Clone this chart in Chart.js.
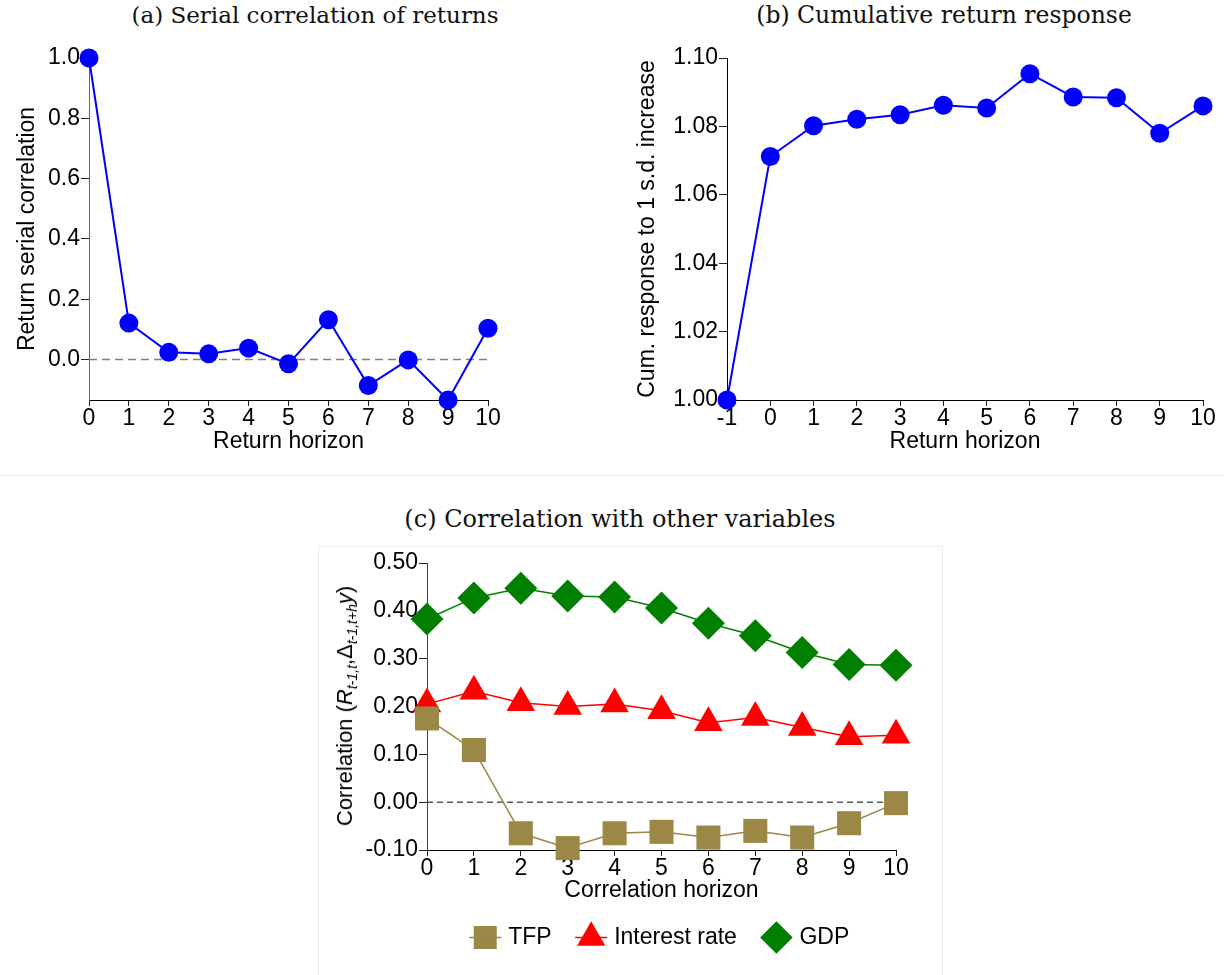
<!DOCTYPE html>
<html>
<head>
<meta charset="utf-8">
<script src="https://cdn.jsdelivr.net/npm/chart.js@4.4.1/dist/chart.umd.min.js"></script>
<style>
  body { margin:0; background:#fff; width:1224px; height:975px; position:relative; overflow:hidden; font-family:"Liberation Sans", Arial, sans-serif; }
  .ptitle { position:absolute; font-family:"DejaVu Serif", serif; color:#111; white-space:nowrap; transform:translateX(-50%); }
  canvas { position:absolute; }
  #sep { position:absolute; left:0; top:475px; width:1224px; height:1px; background:#ececec; }
  #boxc { position:absolute; left:318px; top:546px; width:623px; height:440px; border:1px solid #ececec; }
  #ytc { position:absolute; left:345px; top:706px; transform:translate(-50%,-50%) rotate(-90deg); font-size:22px; white-space:nowrap; color:#000; font-family:"Liberation Sans", Arial, sans-serif; }
  #ytc sub { font-size:14px; vertical-align:-5px; line-height:0; }
</style>
</head>
<body>
<div id="sep"></div>
<div id="boxc"></div>
<div class="ptitle" style="left:315px; top:4px; font-size:23px; line-height:23px;">(a) Serial correlation of returns</div>
<div class="ptitle" style="left:944px; top:4px; font-size:23.5px; line-height:23px;">(b) Cumulative return response</div>
<div class="ptitle" style="left:620px; top:507px; font-size:24px; line-height:24px;">(c) Correlation with other variables</div>
<canvas id="ca" width="610" height="470" style="left:0px; top:0px; width:610px; height:470px;"></canvas>
<canvas id="cb" width="612" height="470" style="left:612px; top:0px; width:612px; height:470px;"></canvas>
<canvas id="cc" width="624" height="429" style="left:318px; top:546px; width:624px; height:429px;"></canvas>
<div id="ytc">Correlation (<i>R</i><sub><i>t-1,t</i></sub>,Δ<sub><i>t-1,t+h</i></sub><i>y</i>)</div>

<script>
// ---------------- data ----------------
const horizonA = [0, 1, 2, 3, 4, 5, 6, 7, 8, 9, 10];
const serialCorr = [1.000, 0.121, 0.024, 0.019, 0.038, -0.014, 0.132, -0.086, -0.001, -0.134, 0.104];
const yTicksA = [0.0, 0.2, 0.4, 0.6, 0.8, 1.0];
const yRangeA = [-0.134, 1.0];

const horizonB = [-1, 0, 1, 2, 3, 4, 5, 6, 7, 8, 9, 10];
const cumResponse = [1.0000, 1.0712, 1.0802, 1.0821, 1.0834, 1.0862, 1.0854, 1.0954, 1.0886, 1.0884, 1.0780, 1.0860];
const yTicksB = [1.00, 1.02, 1.04, 1.06, 1.08, 1.10];
const yRangeB = [1.00, 1.10];

const horizonC = [0, 1, 2, 3, 4, 5, 6, 7, 8, 9, 10];
const seriesNamesC = ['TFP', 'Interest rate', 'GDP'];
const tfpCorr = [0.175, 0.109, -0.065, -0.096, -0.065, -0.062, -0.074, -0.060, -0.074, -0.044, -0.002];
const rateCorr = [0.205, 0.232, 0.208, 0.200, 0.205, 0.191, 0.166, 0.177, 0.156, 0.137, 0.140];
const gdpCorr = [0.383, 0.427, 0.447, 0.431, 0.429, 0.406, 0.374, 0.348, 0.313, 0.288, 0.286];
const yTicksC = [-0.10, 0.00, 0.10, 0.20, 0.30, 0.40, 0.50];
const yRangeC = [-0.10, 0.50];

// ---------------- helpers ----------------
const FONT = '"Liberation Sans", Arial, sans-serif';
const FS = 23;
const pts = (xs, ys) => xs.map((x, i) => ({ x: x, y: ys[i] }));
const zeroLine = (xs, color, dash, width) => ({
  type: 'line', label: '__zero', data: [{ x: xs[0], y: 0 }, { x: xs[xs.length - 1], y: 0 }],
  borderColor: color, borderDash: dash, borderWidth: width, pointRadius: 0, fill: false
});

function xScale(xs, title, height, titlePadBottom, z) {
  return {
    type: 'linear', min: xs[0], max: xs[xs.length - 1], z: z,
    afterBuildTicks: s => { s.ticks = xs.map(v => ({ value: v })); },
    ticks: { autoSkip: false, maxRotation: 0, padding: -1, color: '#000', font: { size: FS, family: FONT }, callback: v => String(v) },
    grid: { drawOnChartArea: false, drawTicks: true, tickLength: 6, color: '#222', tickColor: '#222', lineWidth: 1 },
    border: { display: true, color: '#000', width: 1 },
    title: { display: true, text: title, color: '#000', font: { size: FS, family: FONT }, padding: { top: 0, bottom: titlePadBottom } },
    afterFit: s => { s.height = height; }
  };
}
function yScale(range, ticks, decimals, title, width, titlePad, borderColor, z) {
  return {
    type: 'linear', min: range[0], max: range[1], z: z,
    afterBuildTicks: s => { s.ticks = ticks.map(v => ({ value: v })); },
    ticks: { autoSkip: false, padding: 1, color: '#000', font: { size: FS, family: FONT }, callback: v => Number(v).toFixed(decimals) },
    grid: { drawOnChartArea: false, drawTicks: true, tickLength: 8, color: '#222', tickColor: '#222', lineWidth: 1 },
    border: { display: true, color: borderColor, width: 1 },
    title: { display: !!title, text: title || '', color: '#000', font: { size: FS, family: FONT }, padding: { top: titlePad, bottom: 0 } },
    afterFit: s => { s.width = width; }
  };
}
const baseOpts = { responsive: false, animation: false, events: [], devicePixelRatio: 1 };

// ---------------- panel (a) ----------------
new Chart(document.getElementById('ca'), {
  type: 'line',
  data: {
    datasets: [
      { label: 'serial', data: pts(horizonA, serialCorr), borderColor: '#0000ff', backgroundColor: '#0000ff', borderWidth: 2,
        pointStyle: 'circle', pointRadius: 9.5, pointBackgroundColor: '#0000ff', pointBorderWidth: 0, clip: false, tension: 0 },
      zeroLine(horizonA, '#808080', [8, 5], 1.5)
    ]
  },
  options: Object.assign({}, baseOpts, {
    layout: { padding: { top: 58, right: 122, bottom: 15, left: 0 } },
    plugins: { legend: { display: false }, tooltip: { enabled: false } },
    scales: {
      x: xScale(horizonA, 'Return horizon', 55, 0, 1),
      y: yScale(yRangeA, yTicksA, 1, 'Return serial correlation', 89, 14, '#666', 1)
    }
  })
});

// ---------------- panel (b) ----------------
new Chart(document.getElementById('cb'), {
  type: 'line',
  data: {
    datasets: [
      { label: 'cum', data: pts(horizonB, cumResponse), borderColor: '#0000ff', backgroundColor: '#0000ff', borderWidth: 2,
        pointStyle: 'circle', pointRadius: 9.5, pointBackgroundColor: '#0000ff', pointBorderWidth: 0, clip: false, tension: 0 }
    ]
  },
  options: Object.assign({}, baseOpts, {
    layout: { padding: { top: 58, right: 21, bottom: 15, left: 0 } },
    plugins: { legend: { display: false }, tooltip: { enabled: false } },
    scales: {
      x: xScale(horizonB, 'Return horizon', 55, 0, 1),
      y: yScale(yRangeB, yTicksB, 2, 'Cum. response to 1 s.d. increase', 115, 22, '#000', 1)
    }
  })
});

// ---------------- panel (c) ----------------
const legendLines = {
  id: 'legendLines',
  afterDraw(chart) {
    const lg = chart.legend;
    if (!lg || !lg.legendHitBoxes) return;
    const ctx = chart.ctx;
    lg.legendItems.forEach((item, i) => {
      const ds = chart.data.datasets[item.datasetIndex];
      if (!ds || !ds.legendLine) return;
      const hb = lg.legendHitBoxes[i];
      const cx = hb.left + FS / 2, cy = hb.top + hb.height / 2;
      ctx.save();
      ctx.strokeStyle = ds.borderColor; ctx.lineWidth = 1.5;
      ctx.beginPath(); ctx.moveTo(cx - 16, cy); ctx.lineTo(cx + 16, cy); ctx.stroke();
      ctx.restore();
    });
  }
};
const colTFP = '#9b8746', colRate = '#ff0000', colGDP = '#007f00';
new Chart(document.getElementById('cc'), {
  type: 'line',
  data: {
    datasets: [
      { label: seriesNamesC[0], data: pts(horizonC, tfpCorr), borderColor: colTFP, backgroundColor: colTFP, borderWidth: 1.5,
        pointStyle: 'rect', pointRadius: 17, pointBackgroundColor: colTFP, pointBorderWidth: 0, clip: false, legendLine: true },
      { label: seriesNamesC[1], data: pts(horizonC, rateCorr), borderColor: colRate, backgroundColor: colRate, borderWidth: 1.5,
        pointStyle: 'triangle', pointRadius: 16.5, pointBackgroundColor: colRate, pointBorderWidth: 0, clip: false, legendLine: true },
      { label: seriesNamesC[2], data: pts(horizonC, gdpCorr), borderColor: colGDP, backgroundColor: colGDP, borderWidth: 1.5,
        pointStyle: 'rectRot', pointRadius: 16.5, pointBackgroundColor: colGDP, pointBorderWidth: 0, clip: false },
      zeroLine(horizonC, '#000', [6, 4], 1)
    ]
  },
  options: Object.assign({}, baseOpts, {
    layout: { padding: { top: 16, right: 46, bottom: 16, left: 0 } },
    plugins: {
      tooltip: { enabled: false },
      legend: {
        display: true, position: 'bottom', fullSize: false,
        labels: { usePointStyle: true, padding: 28, color: '#000', font: { size: FS, family: FONT },
                  filter: item => item.text !== '__zero' }
      }
    },
    scales: {
      x: xScale(horizonC, 'Correlation horizon', 48, -6, 0),
      y: yScale(yRangeC, yTicksC, 2, null, 109, 0, '#444', 0)
    }
  }),
  plugins: [legendLines]
});
</script>
</body>
</html>
